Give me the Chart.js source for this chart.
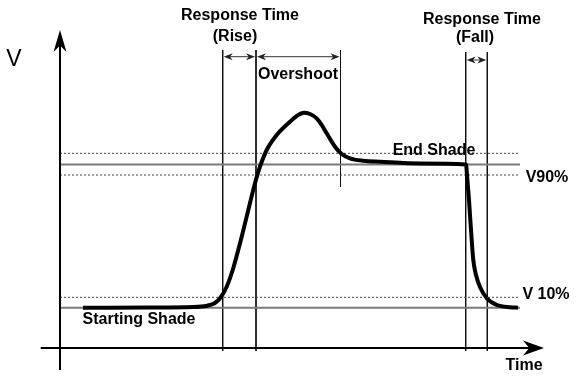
<!DOCTYPE html>
<html>
<head>
<meta charset="utf-8">
<script src="https://cdn.jsdelivr.net/npm/chart.js@4"></script>
<style>
  html, body { margin: 0; padding: 0; background: #fff; }
  #wrap { width: 578px; height: 377px; }
</style>
</head>
<body>
<div id="wrap"><canvas id="myChart"></canvas></div>
<script>
// response curve, time vs voltage (origin at the axes crossing)
var curveT = [23, 90, 133, 147, 155, 160, 166.7, 173.3, 181.7, 188.3, 195, 200, 206.7, 216.7, 230, 236.7, 244, 250, 256.7, 261.7, 266.7, 275, 281.7, 290, 303.3, 320, 360, 406, 407, 409, 411, 413.3, 416, 420, 427, 437, 450, 458];
var curveV = [40.3, 40.5, 41, 42.3, 45, 49.7, 61.3, 80, 111.3, 138, 164.7, 181.3, 198, 213, 226.3, 232, 235.3, 234, 229.7, 223, 214.7, 201.3, 194, 189.7, 187.3, 186.3, 184.5, 183.5, 173, 148, 118, 88, 73, 61, 49.5, 43, 40.7, 40.3];

// reference levels
var solidLevels = [40.3, 183.5];
var dottedLevels = [50.7, 173, 194.7];
var levelSpan = [0, 460];

// vertical markers
var markerT = [162.7, 196, 280.5, 405.7, 427.3];
var markerTop = [298, 298, 298, 296, 296];
var markerBottom = [-3, -3, 161, -3, -3];

// double arrows between markers
var spanFrom = [162.7, 196, 405.7];
var spanTo = [196, 280.5, 427.3];
var spanV = [291.3, 291.3, 288];

// axis extents
var axisT = [-19.3, 484];
var axisV = [-22, 318];

// labels
var labelTexts = ['Response Time', '(Rise)', 'Overshoot', 'Response Time', '(Fall)', 'End Shade', 'V90%', 'V 10%', 'Time', 'Starting Shade'];
var labelT = [180, 175, 238, 422, 415, 374, 487, 486, 464, 79];
var labelV = [332, 311, 273, 328, 310, 197, 170, 53, -18, 28];

function pts(ts, vs) {
  return ts.map(function (t, i) { return {x: t, y: vs[i]}; });
}

var datasets = [{
  data: pts(curveT, curveV),
  borderColor: '#000',
  borderWidth: 4,
  pointRadius: 0,
  cubicInterpolationMode: 'monotone'
}];

solidLevels.forEach(function (v) {
  datasets.push({
    data: pts(levelSpan, [v, v]),
    borderColor: '#7a7a7a',
    borderWidth: 2,
    pointRadius: 0
  });
});
dottedLevels.forEach(function (v) {
  datasets.push({
    data: pts(levelSpan, [v, v]),
    borderColor: '#444',
    borderWidth: 1,
    borderDash: [2, 2],
    pointRadius: 0
  });
});
markerT.forEach(function (t, i) {
  datasets.push({
    data: pts([t, t], [markerTop[i], markerBottom[i]]),
    borderColor: '#111',
    borderWidth: 1,
    pointRadius: 0
  });
});

function head(ctx, tx, ty, dx, dy, len, half) {
  ctx.beginPath();
  ctx.moveTo(tx, ty);
  ctx.lineTo(tx - dx * len - dy * half, ty - dy * len + dx * half);
  ctx.lineTo(tx - dx * len * 0.7, ty - dy * len * 0.7);
  ctx.lineTo(tx - dx * len + dy * half, ty - dy * len - dx * half);
  ctx.closePath();
  ctx.fill();
}

var overlay = {
  id: 'overlay',
  afterDatasetsDraw: function (chart) {
    var ctx = chart.ctx, x = chart.scales.x, y = chart.scales.y;
    ctx.save();
    ctx.fillStyle = '#000';
    ctx.strokeStyle = '#000';

    // axes with arrows
    var x0 = x.getPixelForValue(0), y0 = y.getPixelForValue(0);
    var yTop = y.getPixelForValue(axisV[1]), xEnd = x.getPixelForValue(axisT[1]);
    ctx.lineWidth = 2;
    ctx.beginPath();
    ctx.moveTo(x0, y.getPixelForValue(axisV[0]));
    ctx.lineTo(x0, yTop + 10);
    ctx.moveTo(x.getPixelForValue(axisT[0]), y0);
    ctx.lineTo(xEnd - 10, y0);
    ctx.stroke();
    head(ctx, x0, yTop, 0, -1, 22, 6.5);
    head(ctx, xEnd, y0, 1, 0, 21, 7.5);

    // spans
    ctx.lineWidth = 1;
    ctx.strokeStyle = '#333';
    ctx.fillStyle = '#222';
    spanFrom.forEach(function (t, i) {
      var a = x.getPixelForValue(t) + 1, b = x.getPixelForValue(spanTo[i]) - 1;
      var py = y.getPixelForValue(spanV[i]);
      ctx.beginPath();
      ctx.moveTo(a + 4, py);
      ctx.lineTo(b - 4, py);
      ctx.stroke();
      head(ctx, a, py, -1, 0, 9, 3.5);
      head(ctx, b, py, 1, 0, 9, 3.5);
    });

    // labels
    ctx.textAlign = 'center';
    ctx.textBaseline = 'middle';
    ctx.fillStyle = '#000';
    ctx.font = 'bold 16px "Liberation Sans", Arial, sans-serif';
    labelTexts.forEach(function (s, i) {
      ctx.fillText(s, x.getPixelForValue(labelT[i]), y.getPixelForValue(labelV[i]));
    });
    ctx.font = '23px "Liberation Sans", Arial, sans-serif';
    ctx.fillText('V', x.getPixelForValue(-46), y.getPixelForValue(288));
    ctx.restore();
  }
};

var ctx = document.getElementById('myChart').getContext('2d');
var myChart = new Chart(ctx, {
  type: 'line',
  data: { datasets: datasets },
  options: {
    responsive: true,
    maintainAspectRatio: false,
    animation: false,
    layout: { padding: 0 },
    scales: {
      x: { type: 'linear', min: -60, max: 518, display: false },
      y: { type: 'linear', min: -29, max: 348, display: false }
    },
    plugins: {
      legend: { display: false },
      tooltip: { enabled: false }
    }
  },
  plugins: [overlay]
});
</script>
</body>
</html>
